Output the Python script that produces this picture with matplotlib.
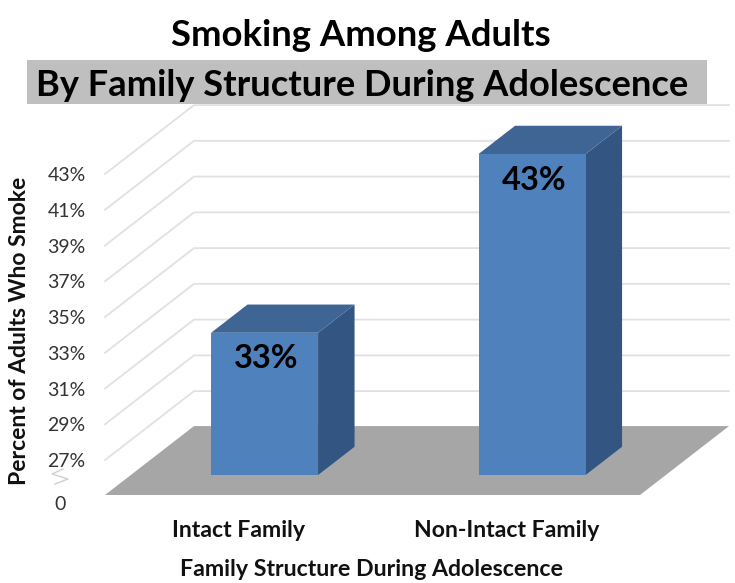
import matplotlib
matplotlib.use("Agg")
import matplotlib.pyplot as plt
from matplotlib.patches import Rectangle

plt.rcParams['font.family'] = ['Lato', 'DejaVu Sans']

categories = ["Intact Family", "Non-Intact Family"]
values = [33, 43]
value_labels = ["33%", "43%"]
tick_values = [27, 29, 31, 33, 35, 37, 39, 41, 43]
tick_labels = ["27%", "29%", "31%", "33%", "35%", "37%", "39%", "41%", "43%"]
title_line1 = "Smoking Among Adults"
title_line2 = "By Family Structure During Adolescence"
x_title = "Family Structure During Adolescence"
y_title = "Percent of Adults Who Smoke"

W, H = 735, 583
fig = plt.figure(figsize=(W / 100, H / 100), dpi=100, facecolor="white")

# plot rectangle = the front plane of the 3-D box
L, R, B, T = 105, 640, 495, 174
ax = fig.add_axes([L / W, 1 - B / H, (R - L) / W, (B - T) / H])
floor = 27 - 35 / 17.9
ax.set_xlim(-0.5, 1.5)
ax.set_ylim(floor, 43)
ax.patch.set_alpha(0)
for s in ax.spines.values():
    s.set_visible(False)

# depth offsets of the oblique projection, in data units
DX = 89 / 267.5
DY = 69 / 17.9


def P(x, v, d):
    return x + d * DX, v + d * DY


GRID = "#E1E1E1"
for v in tick_values:
    pts = [P(-0.5, v, 0), P(-0.5, v, 1), P(1.5, v, 1)]
    ax.plot(*zip(*pts), color=GRID, lw=1.3, clip_on=False, zorder=1)

floor_pts = [P(-0.5, floor, 0), P(1.5, floor, 0), P(1.5, floor, 1), P(-0.5, floor, 1)]
ax.fill(*zip(*floor_pts), color="#A6A6A6", lw=0, clip_on=False, zorder=2)

HW = 0.2
D0, D1 = 0.29, 0.70
for i, (cat, v, lab) in enumerate(zip(categories, values, value_labels)):
    x0, x1 = i - HW, i + HW
    base = floor
    front = [P(x0, base, D0), P(x1, base, D0), P(x1, v, D0), P(x0, v, D0)]
    top = [P(x0, v, D0), P(x1, v, D0), P(x1, v, D1), P(x0, v, D1)]
    side = [P(x1, base, D0), P(x1, base, D1), P(x1, v, D1), P(x1, v, D0)]
    ax.fill(*zip(*side), color="#325582", lw=0, clip_on=False, zorder=3)
    ax.fill(*zip(*top), color="#3E6594", lw=0, clip_on=False, zorder=3)
    ax.fill(*zip(*front), color="#4F81BD", lw=0, clip_on=False, zorder=4)
    cx, cy = P(i, v, D0)
    ax.annotate(lab, (cx, cy), xytext=(2 * 0.72, -26 * 0.72), textcoords="offset points",
                ha="center", va="center", fontsize=23.5, fontweight="bold",
                color="black", zorder=5, annotation_clip=False)

ax.set_yticks(tick_values, tick_labels)
ax.tick_params(axis="y", length=0, pad=14, labelsize=14, labelcolor="#333333")
ax.set_xticks(range(len(categories)), categories)
ax.tick_params(axis="x", length=0, pad=18, labelsize=16.6, labelcolor="#111111")
for t in ax.get_xticklabels():
    t.set_fontweight("bold")

# axis-break label and zigzag
ax.annotate("0", (-0.5, floor), xytext=(-45 * 0.72, -9 * 0.72), textcoords="offset points",
            ha="center", va="center", fontsize=14, color="#333333", annotation_clip=False)
zig_x = [63, 52, 68, 55]
zig_y = [469, 474, 479, 484]
fig.add_artist(plt.Line2D([a / W for a in zig_x], [1 - b / H for b in zig_y],
                          color="#D0D0D0", lw=1))

fig.text(20 / W, 1 - 331 / H, y_title, rotation=90, ha="center", va="center",
         fontsize=16.5, fontweight="bold", color="#111111")
fig.text(372 / W, 1 - 569 / H, x_title, ha="center", va="center",
         fontsize=16.7, fontweight="bold", color="#111111")

fig.add_artist(Rectangle((27 / W, 1 - 104 / H), 680 / W, 44 / H,
                         transform=fig.transFigure, color="#BFBFBF", lw=0, zorder=0))
fig.text(361 / W, 1 - 36 / H, title_line1, ha="center", va="center",
         fontsize=26.3, fontweight="bold", color="black")
fig.text(362 / W, 1 - 86 / H, title_line2, ha="center", va="center",
         fontsize=26.1, fontweight="bold", color="black")

fig.savefig("out.png", dpi=100)
